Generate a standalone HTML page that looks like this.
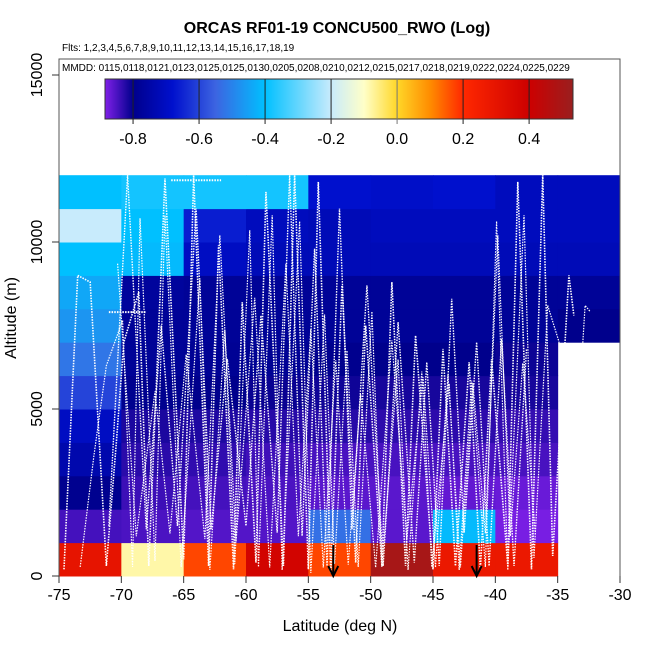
<!DOCTYPE html>
<html><head><meta charset="utf-8"><style>
body{margin:0;background:#fff;}
svg{display:block;font-family:"Liberation Sans",sans-serif;}
</style></head><body>
<svg id="chart" width="650" height="650" viewBox="0 0 650 650">
<text x="337" y="33" text-anchor="middle" font-size="16" font-weight="bold">ORCAS RF01-19 CONCU500_RWO (Log)</text>
<text x="62" y="51" font-size="10">Flts: 1,2,3,4,5,6,7,8,9,10,11,12,13,14,15,16,17,18,19</text>
<g id="cells"></g>
<g id="tracks"></g>
<rect x="59" y="59" width="561" height="94" fill="#fff" stroke="none"/>
<path d="M59,576 V59 H620 V576" fill="none" stroke="#555"/>
<text x="62" y="71" font-size="10">MMDD: 0115,0118,0121,0123,0125,0125,0130,0205,0208,0210,0212,0215,0217,0218,0219,0222,0224,0225,0229</text>
<g id="cbar"></g>
<g id="axes"></g>
<text x="340" y="631" text-anchor="middle" font-size="16">Latitude (deg N)</text>
<text transform="translate(16,318) rotate(-90)" text-anchor="middle" font-size="16">Altitude (m)</text>
</svg>
<script>
// latitude bin starts (5 deg), altitude bins (1000 m)
const latBins=[-75,-70,-65,-60,-55,-50,-45,-40,-35];
const altBins=[0,1000,2000,3000,4000,5000,6000,7000,8000,9000,10000,11000];
// log values per altitude row (bottom to top), per latitude column; null = no data
const row0=[0.3,-0.08,0.17,0.38,0.17,0.5,0.28,0.28,null];
const row1=[-0.845,-0.85,-0.855,-0.855,-0.53,-0.86,-0.41,-0.88,null];
const row2=[-0.795,-0.84,-0.845,-0.85,-0.86,-0.86,-0.865,-0.87,null];
const row3=[-0.74,-0.828,-0.832,-0.842,-0.848,-0.848,-0.848,-0.848,null];
const row4=[-0.7,-0.818,-0.82,-0.826,-0.826,-0.83,-0.83,-0.835,null];
const row5=[-0.6,-0.795,-0.8,-0.806,-0.81,-0.815,-0.815,-0.815,null];
const row6=[-0.52,-0.78,-0.785,-0.785,-0.797,-0.8,-0.8,-0.808,null];
const row7=[-0.47,-0.78,-0.78,-0.78,-0.78,-0.78,-0.78,-0.78,-0.8];
const row8=[-0.44,-0.77,-0.78,-0.78,-0.78,-0.78,-0.78,-0.78,-0.78];
const row9=[-0.4,-0.41,-0.7,-0.72,-0.72,-0.72,-0.72,-0.72,-0.72];
const row10=[-0.2,-0.4,-0.66,-0.71,-0.72,-0.71,-0.71,-0.71,-0.71];
const row11=[-0.4,-0.38,-0.38,-0.38,-0.68,-0.69,-0.68,-0.71,-0.71];
const grid=[row0,row1,row2,row3,row4,row5,row6,row7,row8,row9,row10,row11];
const cbTicks=[-0.8,-0.6,-0.4,-0.2,0.0,0.2,0.4];
const xTicks=[-75,-70,-65,-60,-55,-50,-45,-40,-35,-30];
const yTicks=[0,5000,10000,15000];
const arrowLats=[-53,-41.5];
// flight track samples (lat, alt)
const trackLat=[-74.6,-73.5,-72.5,-71.2,-70.4,-69.8,-68.6,-67.8,-66.5,-65,-64.2,-63,-62.2,-61,-60.3,-59.2,-58.4,-57,-56.1,-55,-54.2,-53.2,-52.3,-51.2,-50.4,-49.1,-48.3,-47.2,-46.4,-45,-44.2,-43.2,-42.1,-41.2,-40.3,-39,-38.2,-37.1,-36.2,-35.4,-34.1,-33.7];
const trackAlt=[200,9000,8800,300,4000,7000,8500,300,11900,500,12000,300,9900,200,8200,400,11500,300,12000,200,11800,100,8700,400,7500,300,8800,300,7200,200,6800,300,6400,200,6500,300,11800,200,12000,600,9000,7800];
const track2Lat=[-71,-69.5,-68,-66.8,-65.5,-64,-62.8,-61.5,-60,-58.8,-57.5,-56.5,-55.5,-54.5,-53.5,-52.5,-51.5,-50.3,-49,-47.8,-46.5,-45.5,-44.5,-43.5,-42.5,-41.5,-40.5,-39.5,-38.5,-37.5];
const track2Alt=[1500,12000,1400,7500,1500,11000,1400,6500,1500,7800,1300,12000,1200,9800,300,11000,1400,8700,300,7600,400,6400,300,8300,1300,7000,300,7100,300,6800];
const horizLat=[-66,-62];
const horizLat2=[-71,-68];
const horizAlt=[11850,7900];

const X=v=>59+(v+75)*561/45, Y=v=>576-v*501/15000;
const NS="http://www.w3.org/2000/svg";
function mk(p,t,a){const e=document.createElementNS(NS,t);for(const k in a)e.setAttribute(k,a[k]);p.appendChild(e);return e;}
const stops=[[-0.885,[128,32,232]],[-0.8,[0,0,140]],[-0.68,[0,16,205]],[-0.55,[60,100,225]],[-0.4,[0,192,255]],[-0.2,[200,235,252]],[-0.1,[255,255,200]],[0,[255,215,40]],[0.1,[255,140,0]],[0.2,[255,40,0]],[0.4,[205,0,0]],[0.53,[155,30,30]]];
function col(v){if(v<=stops[0][0])return`rgb(${stops[0][1]})`;for(let i=1;i<stops.length;i++){if(v<=stops[i][0]){const[a,ca]=stops[i-1],[b,cb]=stops[i];const t=(v-a)/(b-a);return`rgb(${ca.map((c,j)=>Math.round(c+(cb[j]-c)*t))})`;}}return`rgb(${stops[stops.length-1][1]})`;}

const cells=document.getElementById('cells');
grid.forEach((row,r)=>row.forEach((v,c)=>{if(v===null)return;
const e=mk(cells,'rect',{x:X(latBins[c]),y:Y(altBins[r]+1000),width:X(latBins[c]+5)-X(latBins[c])+0.5,height:Y(altBins[r])-Y(altBins[r]+1000)+0.5,fill:col(v)});

}));

const tr=document.getElementById('tracks');
function track(lats,alts,w){
const pl=mk(tr,'polyline',{points:lats.map((l,i)=>X(l)+','+Y(alts[i])).join(' '),fill:'none',stroke:'#fff','stroke-width':w,'stroke-dasharray':'1.5 1.2'});

}
track(trackLat,trackAlt,1.6);
track(track2Lat,track2Alt,1.4);
track(trackLat.map(l=>l+1.3),trackAlt.map((a,i)=>trackAlt[(i+3)%trackAlt.length]*0.9),1.2);
track(track2Lat.map(l=>l+0.7),track2Alt.map((a,i)=>track2Alt[(i+5)%track2Alt.length]*0.85),1.2);
track(horizLat,[horizAlt[0],horizAlt[0]],2);
track(horizLat2,[horizAlt[1],horizAlt[1]],2);

arrowLats.forEach(l=>{const g=mk(tr,'g',{});


mk(g,'line',{x1:X(l),y1:545,x2:X(l),y2:575,stroke:'#000','stroke-width':2});
mk(g,'polyline',{points:`${X(l)-5},566 ${X(l)},576 ${X(l)+5},566`,fill:'none',stroke:'#000','stroke-width':2});});

const cb=document.getElementById('cbar');
const cx0=105,cx1=573,cmin=-0.885,cmax=0.533,CX=v=>cx0+(v-cmin)*(cx1-cx0)/(cmax-cmin);
for(let i=0;i<cx1-cx0;i++){const v=cmin+(i+0.5)*(cmax-cmin)/(cx1-cx0);mk(cb,'rect',{x:cx0+i,y:79,width:1.2,height:40,fill:col(v)});}
mk(cb,'rect',{x:cx0,y:79,width:cx1-cx0,height:40,fill:'none',stroke:'#333'});
cbTicks.forEach(t=>{mk(cb,'line',{x1:CX(t),y1:79,x2:CX(t),y2:124,stroke:t===0?'#777':'#222'});
const tx=mk(cb,'text',{x:CX(t),y:144,'text-anchor':'middle','font-size':16});tx.textContent=t.toFixed(1);

});

const ax=document.getElementById('axes');
xTicks.forEach(t=>{mk(ax,'line',{x1:X(t),y1:576,x2:X(t),y2:583,stroke:'#333'});
const tx=mk(ax,'text',{x:X(t),y:600,'text-anchor':'middle','font-size':16});tx.textContent=t;

});
yTicks.forEach(t=>{mk(ax,'line',{x1:52,y1:Y(t),x2:59,y2:Y(t),stroke:'#333'});
const tx=mk(ax,'text',{transform:`translate(42,${Y(t)}) rotate(-90)`,'text-anchor':'middle','font-size':16});tx.textContent=t;

});
</script>
</body></html>
